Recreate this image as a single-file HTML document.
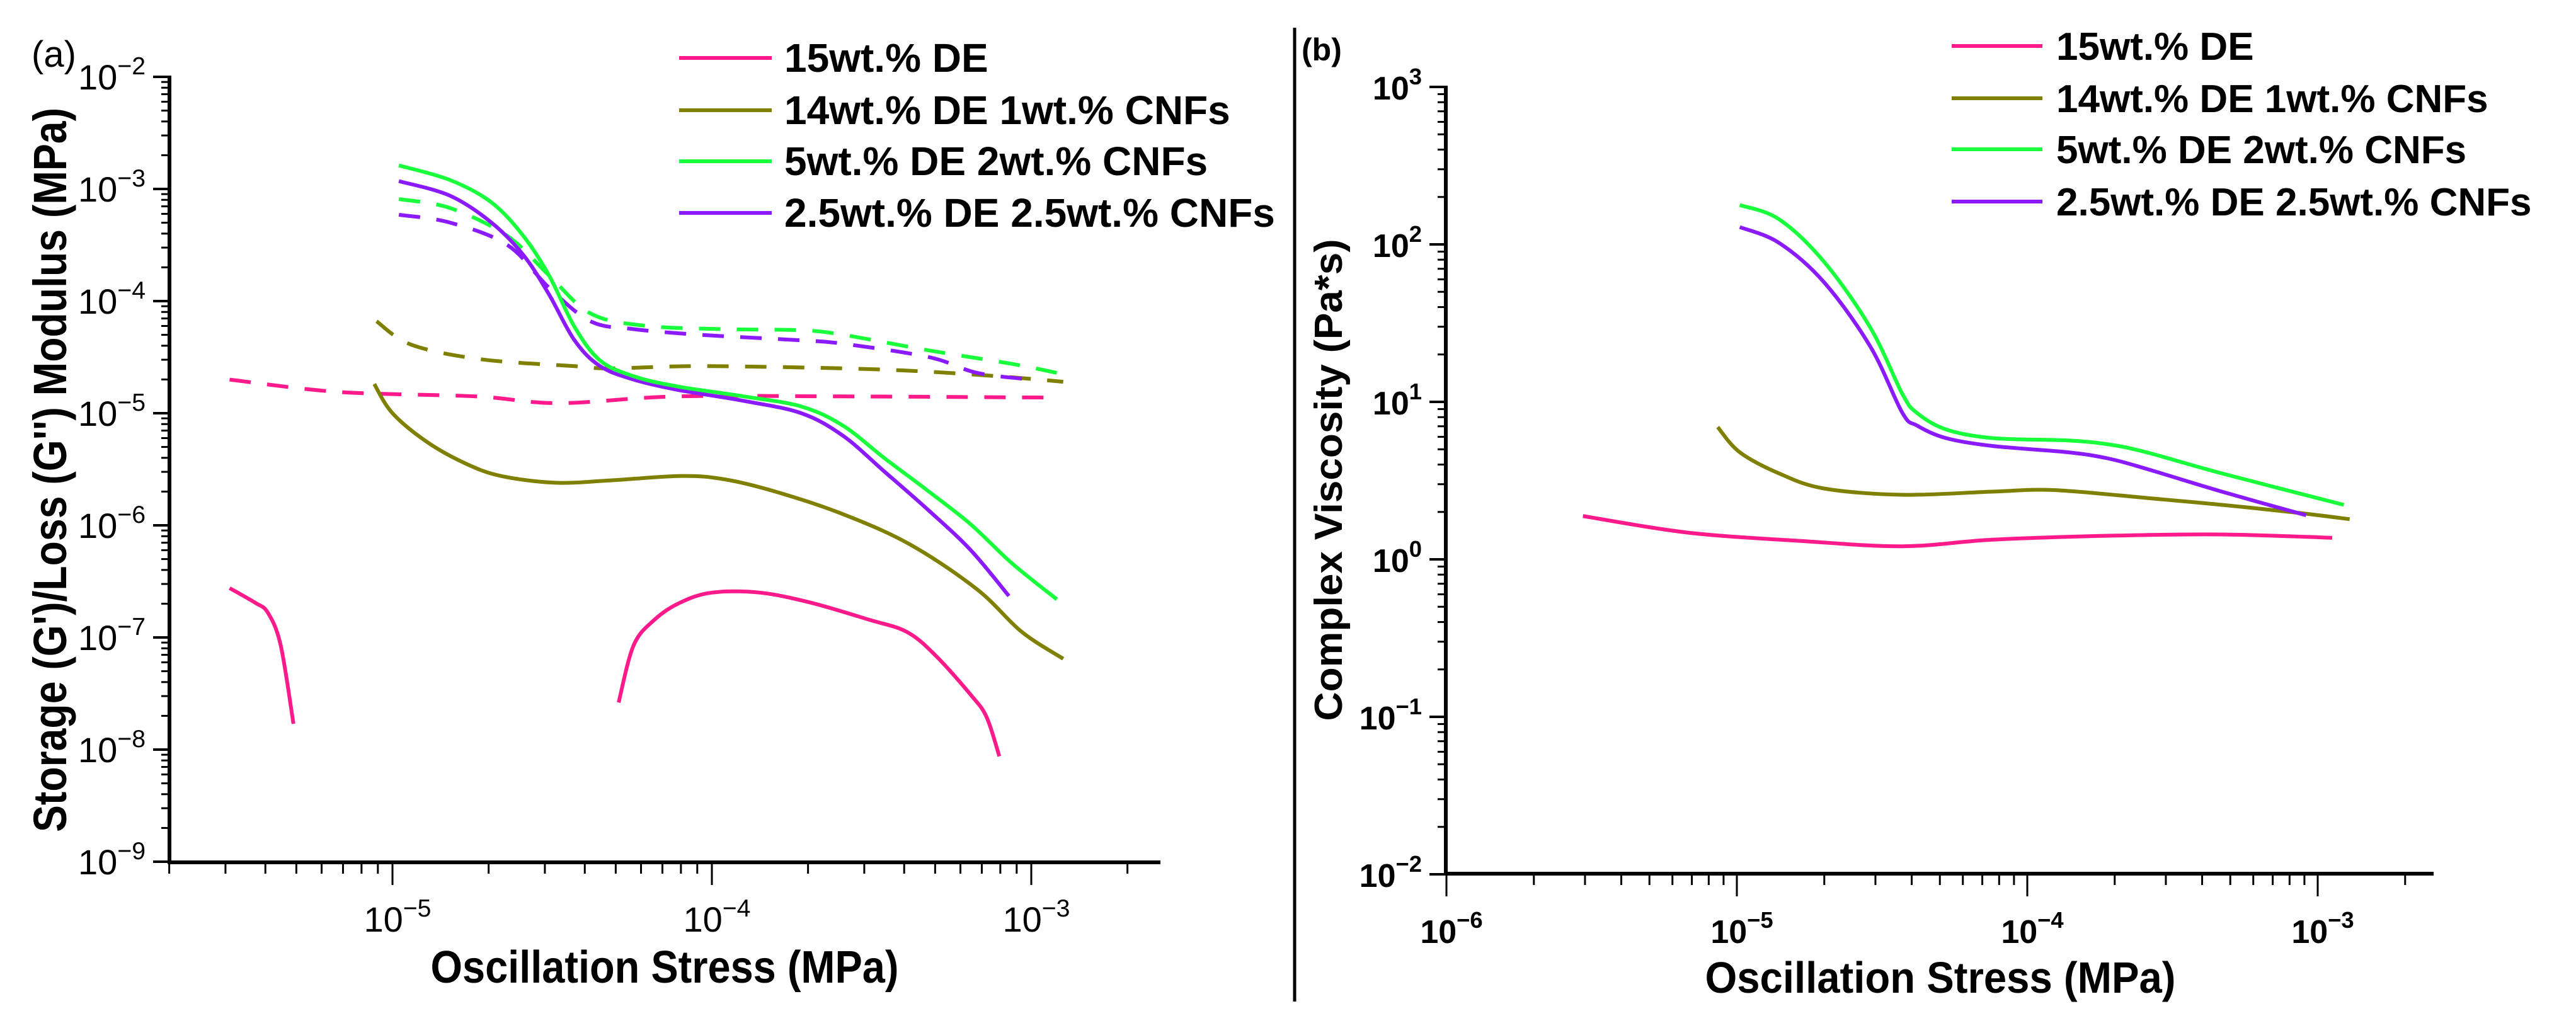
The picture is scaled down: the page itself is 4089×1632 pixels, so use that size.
<!DOCTYPE html>
<html><head><meta charset="utf-8"><style>
html,body{margin:0;padding:0;background:#fff;}
svg{display:block;font-family:"Liberation Sans",Arial,sans-serif;}
</style></head><body>
<svg id="fig" width="4089" height="1632" viewBox="0 0 4089 1632" xmlns="http://www.w3.org/2000/svg"></svg>
<script>
// ---- Data (log10 values) ----
const seriesNames = ["15wt.% DE","14wt.% DE 1wt.% CNFs","5wt.% DE 2wt.% CNFs","2.5wt.% DE 2.5wt.% CNFs"];
const seriesColors = ["#ff1a8c","#808000","#19ff3c","#8c1aff"];
// Panel (a): storage modulus G' (solid) and loss modulus G'' (dashed)
const aPinkSolid1X = [-5.51,-5.43,-5.39,-5.35,-5.31];
const aPinkSolid1Y = [-6.56,-6.69,-6.78,-7.07,-7.77];
const aPinkSolid2X = [-4.292,-4.245,-4.179,-4.10,-4.0,-3.85,-3.69,-3.51,-3.39,-3.30,-3.19,-3.14,-3.10];
const aPinkSolid2Y = [-7.58,-7.07,-6.84,-6.69,-6.60,-6.60,-6.69,-6.84,-6.95,-7.16,-7.51,-7.71,-8.06];
const aPinkDashX = [-5.51,-5.17,-4.74,-4.48,-4.11,-3.59,-2.96];
const aPinkDashY = [-4.70,-4.81,-4.85,-4.91,-4.85,-4.85,-4.86];
const aOliveSolidX = [-5.057,-5.0,-4.89,-4.77,-4.66,-4.49,-4.32,-4.095,-3.96,-3.80,-3.59,-3.38,-3.17,-3.03,-2.90];
const aOliveSolidY = [-4.74,-5.0,-5.26,-5.45,-5.56,-5.62,-5.60,-5.56,-5.59,-5.70,-5.90,-6.17,-6.57,-6.95,-7.19];
const aOliveDashX = [-5.05,-4.94,-4.72,-4.43,-4.32,-4.04,-3.59,-3.32,-3.06,-2.90];
const aOliveDashY = [-4.18,-4.39,-4.52,-4.58,-4.60,-4.58,-4.60,-4.63,-4.68,-4.72];
const aGreenSolidX = [-4.98,-4.82,-4.69,-4.59,-4.51,-4.43,-4.35,-4.245,-4.11,-3.90,-3.72,-3.59,-3.46,-3.32,-3.19,-3.06,-2.92];
const aGreenSolidY = [-2.79,-2.92,-3.12,-3.42,-3.77,-4.23,-4.53,-4.67,-4.76,-4.85,-4.94,-5.11,-5.40,-5.70,-5.99,-6.34,-6.66];
const aPurpleSolidX = [-4.98,-4.82,-4.69,-4.59,-4.51,-4.43,-4.35,-4.245,-4.11,-3.90,-3.72,-3.59,-3.46,-3.32,-3.19,-3.07];
const aPurpleSolidY = [-2.93,-3.06,-3.30,-3.59,-3.94,-4.35,-4.58,-4.70,-4.79,-4.89,-5.00,-5.20,-5.52,-5.87,-6.22,-6.63];
const aGreenDashX = [-4.98,-4.82,-4.64,-4.51,-4.38,-4.21,-3.96,-3.72,-3.59,-3.32,-3.06,-2.92];
const aGreenDashY = [-3.09,-3.17,-3.42,-3.77,-4.11,-4.22,-4.25,-4.26,-4.30,-4.44,-4.56,-4.64];
const aPurpleDashX = [-4.98,-4.82,-4.64,-4.51,-4.38,-4.245,-4.04,-3.72,-3.59,-3.32,-3.17,-3.00];
const aPurpleDashY = [-3.23,-3.30,-3.50,-3.88,-4.18,-4.25,-4.30,-4.35,-4.38,-4.50,-4.64,-4.70];
// Panel (b): complex viscosity
const bPinkX = [-5.53,-5.17,-4.78,-4.43,-4.12,-3.72,-3.33,-2.95];
const bPinkY = [0.275,0.17,0.117,0.083,0.125,0.15,0.158,0.137];
const bOliveX = [-5.066,-4.99,-4.855,-4.70,-4.43,-4.12,-3.91,-3.59,-3.33,-3.07,-2.89];
const bOliveY = [0.84,0.68,0.546,0.45,0.41,0.43,0.44,0.39,0.346,0.296,0.255];
const bGreenX = [-4.99,-4.855,-4.70,-4.54,-4.43,-4.38,-4.28,-4.12,-3.86,-3.72,-3.59,-3.33,-2.91];
const bGreenY = [2.25,2.16,1.89,1.47,1.05,0.93,0.825,0.77,0.755,0.73,0.68,0.546,0.346];
const bPurpleX = [-4.99,-4.855,-4.70,-4.54,-4.43,-4.38,-4.28,-4.12,-3.86,-3.72,-3.59,-3.33,-3.04];
const bPurpleY = [2.11,2.01,1.76,1.35,0.93,0.85,0.77,0.72,0.68,0.64,0.575,0.43,0.28];
const aYTicks = [-2,-3,-4,-5,-6,-7,-8,-9];
const aXTicks = [-5,-4,-3];
const bYTicks = [3,2,1,0,-1,-2];
const bXTicks = [-6,-5,-4,-3];

const NS="http://www.w3.org/2000/svg";
const svg=document.getElementById('fig');
function mk(tag,attrs,parent){const e=document.createElementNS(NS,tag);for(const k in attrs)e.setAttribute(k,attrs[k]);(parent||svg).appendChild(e);return e;}

const A={x0:269,x1:1842,y0:122,y1:1369,xDec:507,x5:623,yTop:-2,yDec:178};
const B={x0:2295,x1:3863,y0:138,y1:1387,xDec:461,x5:2757,yTop:3,yDec:250};
function ax(P,lx){return P.x5+(lx+5)*P.xDec;}
function ay(P,ly){return P.y0+(P.yTop-ly)*P.yDec;}

function smooth(pts){
  let d=`M${pts[0][0]},${pts[0][1]}`;
  for(let i=0;i<pts.length-1;i++){
    const p0=pts[i-1]||pts[i],p1=pts[i],p2=pts[i+1],p3=pts[i+2]||p2;
    const c1=[p1[0]+(p2[0]-p0[0])/6,p1[1]+(p2[1]-p0[1])/6];
    const c2=[p2[0]-(p3[0]-p1[0])/6,p2[1]-(p3[1]-p1[1])/6];
    d+=` C${c1[0]},${c1[1]} ${c2[0]},${c2[1]} ${p2[0]},${p2[1]}`;
  }
  return d;
}
function series(P,xs,ys,color,dashed,name){
  const pts=xs.map((x,i)=>[ax(P,x),ay(P,ys[i])]);
  const p=mk('path',{d:smooth(pts),fill:'none',stroke:color,'stroke-width':6,'stroke-linejoin':'round'});
  if(dashed)p.setAttribute('stroke-dasharray','34,26');
  
  
}

function axes(P,yt,xt,tickFont,bold,prefix){
  const g=mk('g',{});
  
  
  mk('line',{x1:P.x0,y1:P.y1,x2:P.x1,y2:P.y1,stroke:'#000','stroke-width':6},g);
  mk('line',{x1:P.x0,y1:P.y0-2,x2:P.x0,y2:P.y1+3,stroke:'#000','stroke-width':6},g);
  const ymin=yt[yt.length-1],ymax=yt[0];
  for(let e=ymin;e<=ymax;e++){
    const y=ay(P,e);
    mk('line',{x1:P.x0-26,y1:y,x2:P.x0,y2:y,stroke:'#000','stroke-width':4},g);
    if(e<ymax)for(let m=2;m<10;m++){const yy=ay(P,e+Math.log10(m));mk('line',{x1:P.x0-13,y1:yy,x2:P.x0,y2:yy,stroke:'#000','stroke-width':3},g);}
  }
  const fw=bold?'bold':'normal';
  yt.forEach(e=>{
    const t=mk('text',{x:P.x0-38,y:ay(P,e)+20,'text-anchor':'end','font-size':tickFont,'font-weight':fw},g);
    
    
    t.textContent='10';
    const s=mk('tspan',{dy:-24,'font-size':tickFont*0.7},t);s.textContent=(e<0?'\u2212':'')+Math.abs(e);
  });
  for(let e=-6;e<=-3;e++){
    for(let m=1;m<10;m++){
      const l=e+Math.log10(m);
      const x=ax(P,l); if(x<P.x0-1||x>P.x1)continue;
      mk('line',{x1:x,y1:P.y1,x2:x,y2:P.y1+(m===1?36:18),stroke:'#000','stroke-width':3},g);
    }
  }
  xt.forEach(e=>{
    const t=mk('text',{x:ax(P,e)+8,y:P.y1+110,'text-anchor':'middle','font-size':tickFont,'font-weight':fw},g);
    
    
    t.textContent='10';
    const s=mk('tspan',{dy:-24,'font-size':tickFont*0.7},t);s.textContent='\u2212'+Math.abs(e);
  });
}
axes(A,aYTicks,aXTicks,56,false,'panel-a');
axes(B,bYTicks,bXTicks,52,true,'panel-b');

series(A,aPinkDashX,aPinkDashY,seriesColors[0],true,'a-loss-15de');
series(A,aOliveDashX,aOliveDashY,seriesColors[1],true,'a-loss-14de');
series(A,aGreenDashX,aGreenDashY,seriesColors[2],true,'a-loss-5de');
series(A,aPurpleDashX,aPurpleDashY,seriesColors[3],true,'a-loss-2p5de');
series(A,aPinkSolid1X,aPinkSolid1Y,seriesColors[0],false,'a-storage-15de-low');
series(A,aPinkSolid2X,aPinkSolid2Y,seriesColors[0],false,'a-storage-15de-high');
series(A,aOliveSolidX,aOliveSolidY,seriesColors[1],false,'a-storage-14de');
series(A,aPurpleSolidX,aPurpleSolidY,seriesColors[3],false,'a-storage-2p5de');
series(A,aGreenSolidX,aGreenSolidY,seriesColors[2],false,'a-storage-5de');
series(B,bPinkX,bPinkY,seriesColors[0],false,'b-viscosity-15de');
series(B,bOliveX,bOliveY,seriesColors[1],false,'b-viscosity-14de');
series(B,bPurpleX,bPurpleY,seriesColors[3],false,'b-viscosity-2p5de');
series(B,bGreenX,bGreenY,seriesColors[2],false,'b-viscosity-5de');

function legend(lx0,lx1,tx,ys,fs,prefix){
  seriesNames.forEach((n,i)=>{
    const g=mk('g',{});
    
    
    mk('line',{x1:lx0,y1:ys[i],x2:lx1,y2:ys[i],stroke:seriesColors[i],'stroke-width':6},g);
    const t=mk('text',{x:tx,y:ys[i]+22,'font-size':fs,'font-weight':'bold'},g);t.textContent=n;
  });
}
legend(1078,1225,1245,[92,175,256,338],64,'panel-a');
legend(3098,3242,3264,[73,156,237,320],62,'panel-b');

function txt(attrs,str,name){const t=mk('text',attrs);t.textContent=str;return t;}
txt({x:50,y:106,'font-size':58},'(a)','panel-a-label');
txt({x:2066,y:96,'font-size':50,'font-weight':'bold'},'(b)','panel-b-label');
txt({x:0,y:0,'font-size':74,'font-weight':'bold','text-anchor':'middle',transform:'translate(105,746) rotate(-90)',textLength:1150,lengthAdjust:'spacingAndGlyphs'},"Storage (G')/Loss (G'') Modulus (MPa)",'panel-a-y-axis-title');
txt({x:0,y:0,'font-size':62,'font-weight':'bold','text-anchor':'middle',transform:'translate(2130,762) rotate(-90)',textLength:765,lengthAdjust:'spacingAndGlyphs'},"Complex Viscosity (Pa*s)",'panel-b-y-axis-title');
txt({x:1055,y:1560,'font-size':72,'font-weight':'bold','text-anchor':'middle',textLength:743,lengthAdjust:'spacingAndGlyphs'},'Oscillation Stress (MPa)','panel-a-x-axis-title');
txt({x:3080,y:1576,'font-size':70,'font-weight':'bold','text-anchor':'middle',textLength:747,lengthAdjust:'spacingAndGlyphs'},'Oscillation Stress (MPa)','panel-b-x-axis-title');
const dv=mk('line',{x1:2055,y1:44,x2:2055,y2:1590,stroke:'#000','stroke-width':5});


</script>
</body></html>
